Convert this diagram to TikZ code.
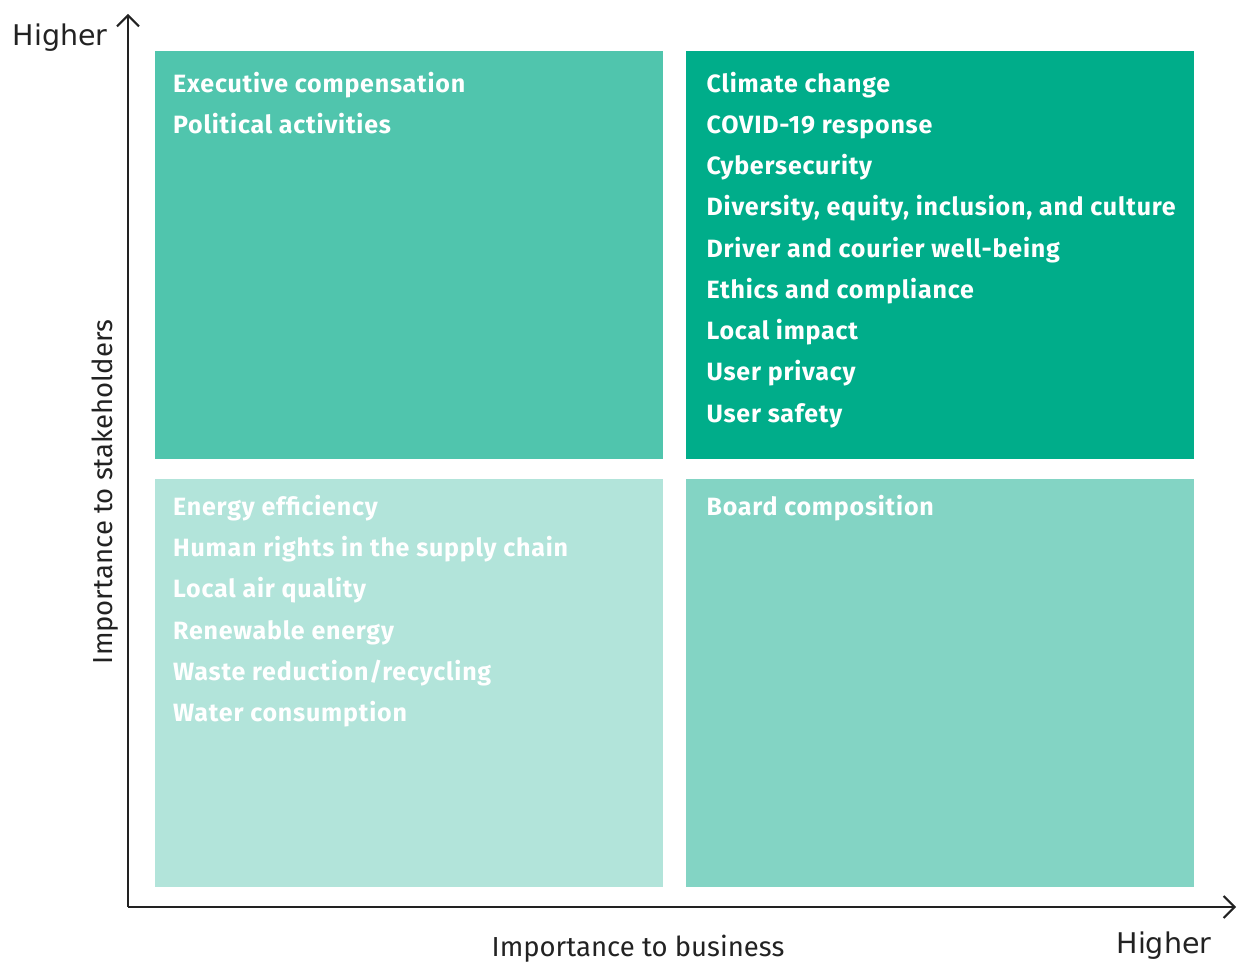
\documentclass[tikz,border=0pt]{standalone}
\usepackage{fontspec}
\setmainfont{Fira Sans}
\newfontfamily\widefont{DejaVu Sans}
\newfontfamily\itemfont[LetterSpace=3.2]{Fira Sans}
\usetikzlibrary{arrows.meta, positioning}
\definecolor{QuadTeal}{RGB}{80,197,173}
\definecolor{QuadGruen}{RGB}{0,173,138}
\definecolor{QuadHell}{RGB}{178,228,218}
\definecolor{QuadMint}{RGB}{131,212,196}
\definecolor{AxisGrau}{RGB}{34,34,34}

\begin{document}
\begin{tikzpicture}[x=1pt, y=1pt,
    quad/.style={minimum width=508pt, minimum height=408pt, inner sep=0pt, anchor=north west},
    items/.style={text=white, align=left, inner sep=0pt, font=\itemfont\fontsize{25}{41.25}\selectfont\bfseries},
    axis/.style={line width=2.5pt, AxisGrau, -{Straight Barb[length=11pt, width=22pt, line width=2pt]}},
    lbl/.style={text=AxisGrau, font=\fontsize{27.5}{32}\selectfont},
    high/.style={text=AxisGrau, font=\widefont\fontsize{28.5}{32}\selectfont}]
    \useasboundingbox (0,0) rectangle (1238,964);

    % quadrants
    \node[quad, fill=QuadTeal] (hl) at (155,913) {};
    \node[quad, fill=QuadGruen, right=22pt of hl] (hh) {};
    \node[quad, fill=QuadHell, below=19pt of hl] (ll) {};
    \node[quad, fill=QuadMint, below=19pt of hh] (lh) {};

    \node[items, below right=12pt and 18pt of hl.north west] (thl) {\strut Executive compensation\\Political activities};
    \node[items, below right=12pt and 21pt of hh.north west] (thh) {\strut Climate change\\COVID-19 response\\Cybersecurity\\Diversity, equity, inclusion, and culture\\Driver and courier well-being\\Ethics and compliance\\Local impact\\User privacy\\User safety};
    \node[items, below right=8pt and 18pt of ll.north west] (tll) {\strut Energy efficiency\\Human rights in the supply chain\\Local air quality\\Renewable energy\\Waste reduction/recycling\\Water consumption};
    \node[items, below right=8pt and 21pt of lh.north west] (tlh) {\strut Board composition};

    % axes
    \coordinate (O) at (128,57);
    \coordinate (ytip) at (128,950);
    \coordinate (xtip) at (1236,57);
    \draw[axis] (O) -- (ytip);
    \draw[axis] (O) -- (xtip);

    \node[high, anchor=base east] (hy) at (111,918) {Higher};
    \node[high, anchor=base] (hx) at (1164,11) {Higher};
    \node[lbl, anchor=base, rotate=90] (ly) at (112,472) {Importance to stakeholders};
    \node[lbl, anchor=base] (lx) at (638,8) {Importance to business};
\end{tikzpicture}
\end{document}
